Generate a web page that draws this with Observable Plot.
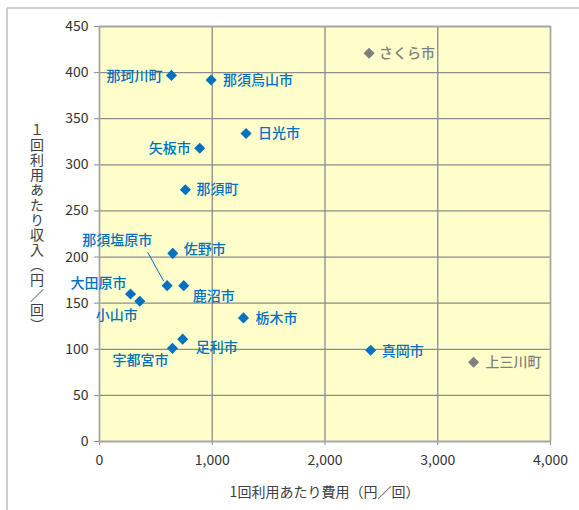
<!DOCTYPE html>
<html>
<head>
<meta charset="utf-8">
<script src="https://cdn.jsdelivr.net/npm/d3@7"></script>
<script src="https://cdn.jsdelivr.net/npm/@observablehq/plot@0.6"></script>
<style>
  body { margin: 0; background: #fff; }
  #chart svg { display: block; }
</style>
</head>
<body>
<div id="chart"></div>
<script>
// Municipalities of Tochigi: cost vs. revenue per ride (円／回)
const municipalities = ["那珂川町", "那須烏山市", "日光市", "矢板市", "那須町", "佐野市", "那須塩原市", "鹿沼市",
  "大田原市", "小山市", "栃木市", "足利市", "宇都宮市", "真岡市", "上三川町", "さくら市"];
const costPerUse = [638, 990, 1300, 889, 762, 650, 600, 747, 275, 357, 1277, 738, 647, 2405, 3318, 2391];
const revenuePerUse = [397, 392, 334, 318, 273, 204, 169, 169, 160, 152, 134, 111, 101, 99, 86, 421];
const grayGroup = ["上三川町", "さくら市"];

const xTicks = [0, 1000, 2000, 3000, 4000];
const yTicks = [0, 50, 100, 150, 200, 250, 300, 350, 400, 450];
const xTitle = "1回利用あたり費用（円／回）";
const yTitle = "１回利用あたり収入（円／回）";

// Label placement relative to each marker: [dx, dy, textAnchor]
const labelPlacement = {
  "那珂川町": [-9, 1, "end"],
  "那須烏山市": [12, 1, "start"],
  "日光市": [12, 0, "start"],
  "矢板市": [-9, 0, "end"],
  "那須町": [11, 0, "start"],
  "佐野市": [11, -4, "start"],
  "那須塩原市": [-50, -45, "middle"],
  "鹿沼市": [9, 11, "start"],
  "大田原市": [-4, -10, "end"],
  "小山市": [-2, 14, "end"],
  "栃木市": [12, 1, "start"],
  "足利市": [13, 8, "start"],
  "宇都宮市": [-4, 12, "end"],
  "真岡市": [11, 1, "start"],
  "上三川町": [12, 0, "start"],
  "さくら市": [10, 0, "start"]
};

const BLUE = "#0070c0";
const GRAY = "#7f7f7f";
const GRID = "#8c8c8c";

const rows = municipalities.map((name, i) => ({
  name,
  cost: costPerUse[i],
  revenue: revenuePerUse[i],
  color: grayGroup.includes(name) ? GRAY : BLUE
}));

const labelMarks = rows.map(d => {
  const [dx, dy, anchor] = labelPlacement[d.name];
  return Plot.text([d], {
    x: "cost", y: "revenue", text: "name",
    dx, dy, textAnchor: anchor,
    fill: d.color, fontSize: 14, fontWeight: 500
  });
});

const plot = Plot.plot({
  width: 579,
  height: 510,
  marginLeft: 99,
  marginRight: 29,
  marginTop: 26,
  marginBottom: 69,
  style: {
    fontFamily: "'Noto Sans CJK JP', 'Noto Sans', sans-serif",
    fontSize: "14px",
    color: "#333333",
    background: "#ffffff"
  },
  x: { domain: [0, 4000], ticks: xTicks, tickFormat: d3.format(","), label: null, tickSize: 4, tickPadding: 10 },
  y: { domain: [0, 450], ticks: yTicks, label: null, tickSize: 5, tickPadding: 6 },
  color: { type: "identity" },
  marks: [
    Plot.frame({ fill: "#ffffcc", stroke: "none" }),
    Plot.ruleX(xTicks, { stroke: GRID, strokeWidth: 1.3 }),
    Plot.ruleY(yTicks, { stroke: GRID, strokeWidth: 1.3 }),
    Plot.frame({ stroke: "#a6a6a6", strokeWidth: 1.5 }),
    Plot.dot(rows, {
      x: "cost", y: "revenue", symbol: "diamond2", r: 5,
      fill: "color", stroke: "none"
    }),
    ...labelMarks
  ]
});

document.getElementById("chart").appendChild(plot);

const svg = d3.select(plot);
const sx = plot.scale("x");
const sy = plot.scale("y");

// Gray tick lines
svg.selectAll('[aria-label$="tick"] path, g.tick line').attr("stroke", GRID);

// Leader line for 那須塩原市
const nasu = rows.find(d => d.name === "那須塩原市");
const px = sx.apply(nasu.cost), py = sy.apply(nasu.revenue);
svg.append("line")
  .attr("x1", px - 19).attr("y1", py - 33)
  .attr("x2", px - 3).attr("y2", py - 4)
  .attr("stroke", BLUE).attr("stroke-width", 1);

// Axis titles
svg.append("text")
  .attr("x", (sx.range[0] + sx.range[1]) / 2)
  .attr("y", 493)
  .attr("text-anchor", "middle")
  .attr("dominant-baseline", "middle")
  .attr("fill", "#404040")
  .style("font-size", "14px")
  .text(xTitle);

svg.append("text")
  .attr("x", 37)
  .attr("y", 228)
  .attr("text-anchor", "middle")
  .attr("fill", "#404040")
  .style("font-size", "14px")
  .style("writing-mode", "vertical-rl")
  .style("text-orientation", "upright")
  .style("letter-spacing", "1px")
  .text(yTitle);

// Outer frame lines
svg.append("line").attr("x1", 7).attr("y1", 8).attr("x2", 579).attr("y2", 8)
  .attr("stroke", "#bfbfbf").attr("stroke-width", 1.5);
svg.append("line").attr("x1", 7).attr("y1", 8).attr("x2", 7).attr("y2", 510)
  .attr("stroke", "#bfbfbf").attr("stroke-width", 1.5);
</script>
</body>
</html>
